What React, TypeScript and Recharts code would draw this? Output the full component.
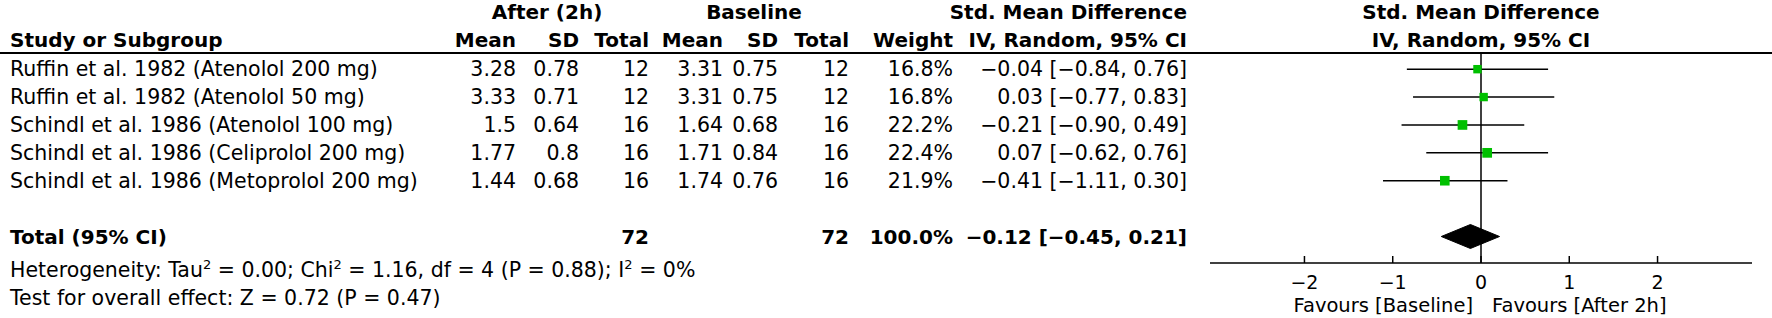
import React from "react";
import {
  Area,
  ComposedChart,
  Customized,
  ReferenceLine,
  Scatter,
  XAxis,
  YAxis,
} from "recharts";

// study level data
const studies = [
  "Ruffin et al. 1982 (Atenolol 200 mg)",
  "Ruffin et al. 1982 (Atenolol 50 mg)",
  "Schindl et al. 1986 (Atenolol 100 mg)",
  "Schindl et al. 1986 (Celiprolol 200 mg)",
  "Schindl et al. 1986 (Metoprolol 200 mg)",
];
const afterMean = [3.28, 3.33, 1.5, 1.77, 1.44];
const afterSd = [0.78, 0.71, 0.64, 0.8, 0.68];
const afterTotal = [12, 12, 16, 16, 16];
const baseMean = [3.31, 3.31, 1.64, 1.71, 1.74];
const baseSd = [0.75, 0.75, 0.68, 0.84, 0.76];
const baseTotal = [12, 12, 16, 16, 16];
const weights = [16.8, 16.8, 22.2, 22.4, 21.9];
const smd = [-0.04, 0.03, -0.21, 0.07, -0.41];
const ciLow = [-0.84, -0.77, -0.9, -0.62, -1.11];
const ciHigh = [0.76, 0.83, 0.49, 0.76, 0.3];

// pooled estimate
const totalAfterN = 72;
const totalBaseN = 72;
const totalWeight = 100;
const totalSmd = -0.12;
const totalLow = -0.45;
const totalHigh = 0.21;

const axisTicks = [-2, -1, 0, 1, 2];

const W = 1772;
const H = 318;
const FONT = "'DejaVu Sans', Verdana, sans-serif";
const FS = 20.5;
const FS_BOLD = 20;
const TOTAL_ROW = 7;
const DIAMOND_HALF = 0.43;
const GREEN = "#00c000";

// column anchors (right aligned unless noted)
const COL = {
  name: 10,
  m1: 516,
  sd1: 579,
  n1: 649,
  m2: 723,
  sd2: 778,
  n2: 849,
  w: 953,
  ci: 1187,
};

const fmt = (v: number, d = 2) => v.toFixed(d).replace("-", "\u2212");
const ciText = (e: number, lo: number, hi: number) =>
  `${fmt(e)} [${fmt(lo)}, ${fmt(hi)}]`;

const studyRows = studies.map((name, i) => ({
  x: smd[i],
  row: i + 1,
  lo: ciLow[i],
  hi: ciHigh[i],
  name,
  m1: afterMean[i],
  sd1: afterSd[i],
  n1: afterTotal[i],
  m2: baseMean[i],
  sd2: baseSd[i],
  n2: baseTotal[i],
  w: weights[i],
}));

// each confidence interval as a two-point segment
const ciSegments = studyRows.map((r) => [
  { x: r.lo, row: r.row },
  { x: r.hi, row: r.row },
]);

const totalRow = [{ x: totalSmd, row: TOTAL_ROW, lo: totalLow, hi: totalHigh }];

// diamond as a ranged area: flat at the CI ends, full height at the estimate
const diamond = [
  { x: totalLow, band: [TOTAL_ROW, TOTAL_ROW] },
  { x: totalSmd, band: [TOTAL_ROW - DIAMOND_HALF, TOTAL_ROW + DIAMOND_HALF] },
  { x: totalHigh, band: [TOTAL_ROW, TOTAL_ROW] },
];

const T = (p: any) => (
  <text fontFamily={FONT} fontSize={FS} fill="#000" {...p} />
);
const B = (p: any) => (
  <text fontFamily={FONT} fontSize={FS_BOLD} fontWeight="bold" fill="#000" {...p} />
);

const Empty = () => <g />;

function StudyText(props: any) {
  const { cy, payload: d } = props;
  if (cy == null) return null;
  const y = cy + 7;
  return (
    <g>
      <T x={COL.name} y={y}>{d.name}</T>
      <T x={COL.m1} y={y} textAnchor="end">{String(d.m1)}</T>
      <T x={COL.sd1} y={y} textAnchor="end">{String(d.sd1)}</T>
      <T x={COL.n1} y={y} textAnchor="end">{d.n1}</T>
      <T x={COL.m2} y={y} textAnchor="end">{String(d.m2)}</T>
      <T x={COL.sd2} y={y} textAnchor="end">{String(d.sd2)}</T>
      <T x={COL.n2} y={y} textAnchor="end">{d.n2}</T>
      <T x={COL.w} y={y} textAnchor="end">{d.w.toFixed(1)}%</T>
      <T x={COL.ci} y={y} textAnchor="end">{ciText(d.x, d.lo, d.hi)}</T>
    </g>
  );
}

function Square(props: any) {
  const { cx, cy, payload } = props;
  if (cx == null || cy == null) return null;
  const s = 2.05 * Math.sqrt(payload.w);
  return <rect x={cx - s / 2} y={cy - s / 2} width={s} height={s} fill={GREEN} />;
}

function TotalText(props: any) {
  const { cy, payload: d } = props;
  if (cy == null) return null;
  const y = cy + 7;
  return (
    <g>
      <B x={COL.name} y={y}>Total (95% CI)</B>
      <B x={COL.n1} y={y} textAnchor="end">{totalAfterN}</B>
      <B x={COL.n2} y={y} textAnchor="end">{totalBaseN}</B>
      <B x={COL.w} y={y} textAnchor="end">{totalWeight.toFixed(1)}%</B>
      <B x={COL.ci} y={y} textAnchor="end">{ciText(d.x, d.lo, d.hi)}</B>
    </g>
  );
}

function Overlay() {
  const hy = 277;
  const sy = hy - 8;
  return (
    <g>
      <B x={547} y={19} textAnchor="middle">After (2h)</B>
      <B x={754} y={19} textAnchor="middle">Baseline</B>
      <B x={COL.ci} y={19} textAnchor="end">Std. Mean Difference</B>
      <B x={1481} y={19} textAnchor="middle">Std. Mean Difference</B>
      <B x={COL.name} y={47}>Study or Subgroup</B>
      <B x={COL.m1} y={47} textAnchor="end">Mean</B>
      <B x={COL.sd1} y={47} textAnchor="end">SD</B>
      <B x={COL.n1} y={47} textAnchor="end">Total</B>
      <B x={COL.m2} y={47} textAnchor="end">Mean</B>
      <B x={COL.sd2} y={47} textAnchor="end">SD</B>
      <B x={COL.n2} y={47} textAnchor="end">Total</B>
      <B x={COL.w} y={47} textAnchor="end">Weight</B>
      <B x={COL.ci} y={47} textAnchor="end">IV, Random, 95% CI</B>
      <B x={1481} y={47} textAnchor="middle">IV, Random, 95% CI</B>
      <line x1={0} x2={W} y1={53} y2={53} stroke="#000" strokeWidth={2} />
      <T x={COL.name} y={hy}>
        <tspan y={hy}>Heterogeneity: Tau</tspan>
        <tspan y={sy} fontSize={13}>2</tspan>
        <tspan y={hy}> = 0.00; Chi</tspan>
        <tspan y={sy} fontSize={13}>2</tspan>
        <tspan y={hy}> = 1.16, df = 4 (P = 0.88); I</tspan>
        <tspan y={sy} fontSize={13}>2</tspan>
        <tspan y={hy}> = 0%</tspan>
      </T>
      <T x={COL.name} y={305}>Test for overall effect: Z = 0.72 (P = 0.47)</T>
      <T x={1473} y={312} textAnchor="end" fontSize={19.5}>Favours [Baseline]</T>
      <T x={1492} y={312} fontSize={19.5}>Favours [After 2h]</T>
    </g>
  );
}

function AxisTick(props: any) {
  const { x, y, payload } = props;
  return (
    <g>
      <line x1={x} x2={x} y1={y} y2={y - 7} stroke="#000" strokeWidth={1.5} />
      <T x={x} y={y + 26} textAnchor="middle" fontSize={19}>
        {fmt(payload.value, 0)}
      </T>
    </g>
  );
}

export default function App() {
  return (
    <div style={{ position: "absolute", left: 0, top: 0, background: "#fff" }}>
      <ComposedChart
        width={W}
        height={H}
        data={diamond}
        margin={{ top: 53, right: 20, bottom: 25, left: 1210 }}
      >
        <XAxis
          dataKey="x"
          type="number"
          domain={[-3.07, 3.07]}
          ticks={axisTicks}
          interval={0}
          tickSize={0}
          tickMargin={0}
          tickLine={false}
          tick={<AxisTick />}
          axisLine={{ stroke: "#000", strokeWidth: 1.5 }}
        />
        <YAxis dataKey="row" type="number" domain={[0.42, 7.95]} reversed hide />
        <ReferenceLine x={0} stroke="#000" strokeWidth={1.5} />
        <Area
          dataKey="band"
          type="linear"
          stroke="#000"
          strokeWidth={1}
          fill="#000"
          fillOpacity={1}
          isAnimationActive={false}
        />
        {ciSegments.map((seg, i) => (
          <Scatter
            key={`ci-${i}`}
            data={seg}
            line={{ stroke: "#000", strokeWidth: 1.5 }}
            shape={<Empty />}
            isAnimationActive={false}
          />
        ))}
        <Scatter data={studyRows} shape={<StudyText />} isAnimationActive={false} />
        <Scatter data={studyRows} shape={<Square />} isAnimationActive={false} />
        <Scatter data={totalRow} shape={<TotalText />} isAnimationActive={false} />
        <Customized component={<Overlay />} />
      </ComposedChart>
    </div>
  );
}
